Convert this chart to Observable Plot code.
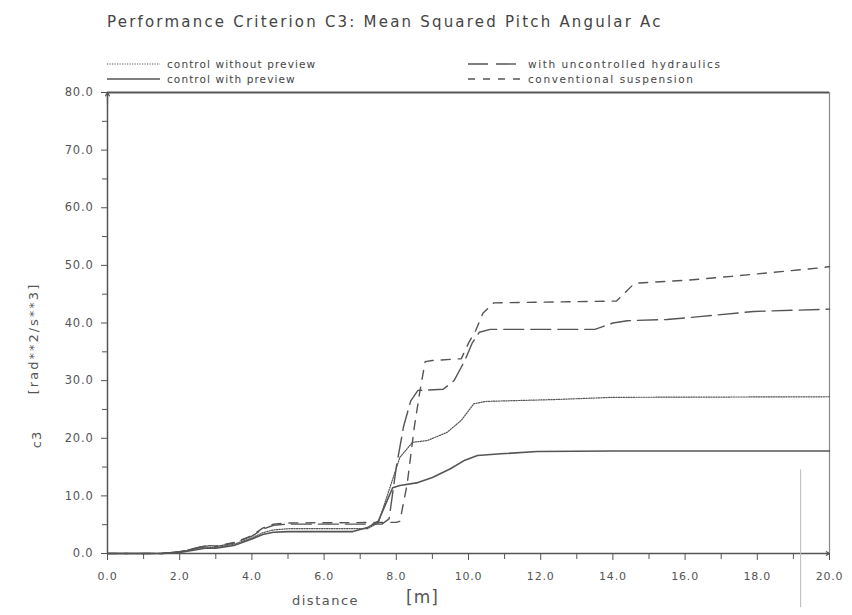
<!DOCTYPE html>
<html>
<head>
<meta charset="utf-8">
<script src="https://cdn.jsdelivr.net/npm/d3@7"></script>
<script src="https://cdn.jsdelivr.net/npm/@observablehq/plot@0.6"></script>
<style>
  body { margin: 0; background: #fff; }
  #wrap { position: relative; width: 852px; height: 615px; font-family: "DejaVu Sans", sans-serif; color: #555; }
  #wrap svg text { letter-spacing: 0.8px; }
  .abs { position: absolute; white-space: nowrap; line-height: 1; }
  #title { font-size: 15px; letter-spacing: 2.2px; color: #444; }
  .leg { font-size: 10.5px; color: #444; display: flex; align-items: center; }
  .leg svg { margin-right: 7px; }
  #ylab1, #ylab2 { transform: rotate(-90deg); transform-origin: center; color: #555; }
</style>
</head>
<body>
<div id="wrap"></div>
<script>
// ---- data ----
const seriesNames = ["control without preview", "control with preview", "with uncontrolled hydraulics", "conventional suspension"];

const distDotted = [0, 1.5, 2.0, 2.5, 2.7, 3.0, 3.5, 4.0, 4.3, 4.6, 5.0, 7.2, 7.5, 7.8, 8.1, 8.45, 8.86, 9.4, 9.8, 10.15, 10.5, 12.3, 14.0, 20.0];
const c3Dotted   = [0, 0, 0.3, 0.9, 1.1, 1.0, 1.6, 2.7, 3.6, 4.1, 4.3, 4.3, 5.3, 11.0, 16.7, 19.3, 19.6, 21.0, 23.1, 26.0, 26.4, 26.7, 27.1, 27.2];

const distSolid = [0, 1.5, 2.0, 2.5, 2.7, 3.0, 3.5, 4.0, 4.3, 4.6, 5.0, 6.8, 7.2, 7.5, 7.9, 8.1, 8.6, 9.0, 9.5, 9.9, 10.25, 10.9, 11.9, 14.0, 20.0];
const c3Solid   = [0, 0, 0.2, 0.7, 0.9, 0.9, 1.4, 2.5, 3.3, 3.7, 3.8, 3.8, 4.5, 5.6, 11.4, 11.8, 12.3, 13.2, 14.7, 16.2, 17.0, 17.3, 17.7, 17.8, 17.8];

const distHydr = [0, 1.5, 2.0, 2.5, 2.7, 3.0, 3.5, 4.0, 4.3, 4.6, 5.0, 7.6, 7.8, 8.0, 8.2, 8.4, 8.6, 9.3, 9.6, 9.9, 10.1, 10.3, 10.6, 13.5, 14.0, 14.4, 15.5, 16.4, 17.9, 20.0];
const c3Hydr   = [0, 0, 0.3, 1.0, 1.3, 1.2, 1.8, 3.0, 4.2, 4.9, 5.1, 5.1, 6.0, 15.0, 22.0, 26.5, 28.3, 28.5, 30.0, 33.5, 36.5, 38.4, 38.9, 38.9, 40.0, 40.4, 40.6, 41.1, 42.0, 42.4];

const distConv = [0, 1.5, 2.0, 2.5, 2.7, 3.0, 3.5, 4.0, 4.3, 4.6, 5.0, 8.0, 8.1, 8.3, 8.5, 8.65, 8.8, 9.0, 9.8, 10.0, 10.2, 10.4, 10.7, 14.1, 14.6, 16.0, 17.3, 19.8, 20.0];
const c3Conv   = [0, 0, 0.3, 1.0, 1.4, 1.3, 1.9, 3.1, 4.4, 5.1, 5.3, 5.4, 5.6, 12.0, 22.0, 28.0, 33.3, 33.5, 33.8, 36.5, 38.7, 41.7, 43.5, 43.8, 46.9, 47.4, 48.1, 49.6, 49.8];

const xMajorTicks = [0, 2, 4, 6, 8, 10, 12, 14, 16, 18, 20];
const xMinorTicks = [1, 3, 5, 7, 9, 11, 13, 15, 17, 19];
const yMajorTicks = [0, 10, 20, 30, 40, 50, 60, 70, 80];
const yMinorTicks = [5, 15, 25, 35, 45, 55, 65, 75];
const xDomain = [0, 20];
const yDomain = [0, 80];

const titleText = "Performance Criterion C3: Mean Squared Pitch Angular Ac";
const xLabel1 = "distance", xLabel2 = "[m]";
const yLabel1 = "c3", yLabel2 = "[rad**2/s**3]";

// ---- build table ----
function rows(name, xs, ys) { return xs.map((d, i) => ({series: name, dist: d, c3: ys[i]})); }
const dotted = rows(seriesNames[0], distDotted, c3Dotted);
const solid = rows(seriesNames[1], distSolid, c3Solid);
const hydr = rows(seriesNames[2], distHydr, c3Hydr);
const conv = rows(seriesNames[3], distConv, c3Conv);

const ink = "#555";
const styles = [
  {dash: "1.2,1.3", w: 1.2, legDash: "1.2,1.3"},
  {dash: null, w: 1.6, legDash: null},
  {dash: "20,7", w: 1.4, legDash: "20,8"},
  {dash: "9,8", w: 1.4, legDash: "7,8"}
];

const chart = Plot.plot({
  width: 852,
  height: 615,
  marginTop: 92,
  marginLeft: 107,
  marginRight: 23,
  marginBottom: 62,
  x: {domain: xDomain},
  y: {domain: yDomain},
  style: {fontFamily: "DejaVu Sans, sans-serif", fontSize: "11px", color: ink, background: "transparent"},
  marks: [
    Plot.axisX(xMajorTicks, {tickSize: 7, tickPadding: 12, tickFormat: d3.format(".1f"), label: null, stroke: ink, fill: ink, fontSize: 11}),
    Plot.axisX(xMinorTicks, {tickSize: 6, text: null, label: null, stroke: ink}),
    Plot.axisY(yMajorTicks, {tickSize: 6, tickPadding: 8, tickFormat: d3.format(".1f"), label: null, stroke: ink, fill: ink, fontSize: 11.5}),
    Plot.axisY(yMinorTicks, {tickSize: 5, text: null, label: null, stroke: ink}),
    Plot.ruleY([yDomain[0]], {stroke: ink, strokeWidth: 1.5}),
    Plot.ruleX([xDomain[0]], {stroke: ink, strokeWidth: 1.5}),
    Plot.ruleY([yDomain[1]], {stroke: ink, strokeWidth: 2.2}),
    Plot.ruleX([xDomain[1]], {stroke: "#888", strokeWidth: 1.2}),
    Plot.ruleX([19.2], {y1: -9.4, y2: 14.5, stroke: "#bbb", strokeWidth: 1}),
    Plot.arrow([0], {x1: () => xDomain[0], y1: () => yDomain[1] - 2, x2: () => xDomain[0], y2: () => yDomain[1], stroke: ink, headLength: 7, strokeWidth: 1.2}),
    Plot.arrow([0], {x1: () => xDomain[1] - 0.3, y1: () => yDomain[0], x2: () => xDomain[1], y2: () => yDomain[0], stroke: ink, headLength: 7, strokeWidth: 1.2}),
    Plot.line(dotted, {x: "dist", y: "c3", stroke: ink, strokeWidth: styles[0].w, strokeDasharray: styles[0].dash}),
    Plot.line(solid, {x: "dist", y: "c3", stroke: ink, strokeWidth: styles[1].w}),
    Plot.line(hydr, {x: "dist", y: "c3", stroke: ink, strokeWidth: styles[2].w, strokeDasharray: styles[2].dash}),
    Plot.line(conv, {x: "dist", y: "c3", stroke: ink, strokeWidth: styles[3].w, strokeDasharray: styles[3].dash})
  ]
});

const wrap = document.getElementById("wrap");
wrap.appendChild(chart);
chart.style.position = "absolute";
chart.style.left = "0px";
chart.style.top = "0px";

function addDiv(id, text, left, top, css) {
  const d = document.createElement("div");
  if (id) d.id = id;
  d.className = "abs";
  d.textContent = text;
  d.style.left = left + "px";
  d.style.top = top + "px";
  Object.assign(d.style, css || {});
  wrap.appendChild(d);
  return d;
}
addDiv("title", titleText, 107, 15);

function legendItem(i, left, top, sampleW, spacing) {
  const d = document.createElement("div");
  d.className = "abs leg";
  d.style.left = left + "px";
  d.style.top = top + "px";
  d.style.letterSpacing = spacing + "px";
  const s = styles[i];
  d.innerHTML = `<svg width="${sampleW}" height="6"><line x1="0" y1="3" x2="${sampleW}" y2="3" stroke="${ink}" stroke-width="${s.w}" ${s.legDash ? `stroke-dasharray="${s.legDash}"` : ""}/></svg><span>${seriesNames[i]}</span>`;
  wrap.appendChild(d);
}
legendItem(0, 107, 59, 53, 1.1);
legendItem(1, 107, 74, 53, 1.1);
legendItem(2, 468, 59, 53, 1.6);
legendItem(3, 468, 74, 53, 1.6);

addDiv(null, xLabel1, 292, 594, {fontSize: "13px", letterSpacing: "1.5px"});
addDiv(null, xLabel2, 406, 589, {fontSize: "17px", letterSpacing: "1px"});

addDiv("ylab1", yLabel1, 28, 433, {fontSize: "13px", letterSpacing: "1px"});
addDiv("ylab2", yLabel2, -22, 332, {fontSize: "13px", letterSpacing: "2px"});
</script>
</body>
</html>
